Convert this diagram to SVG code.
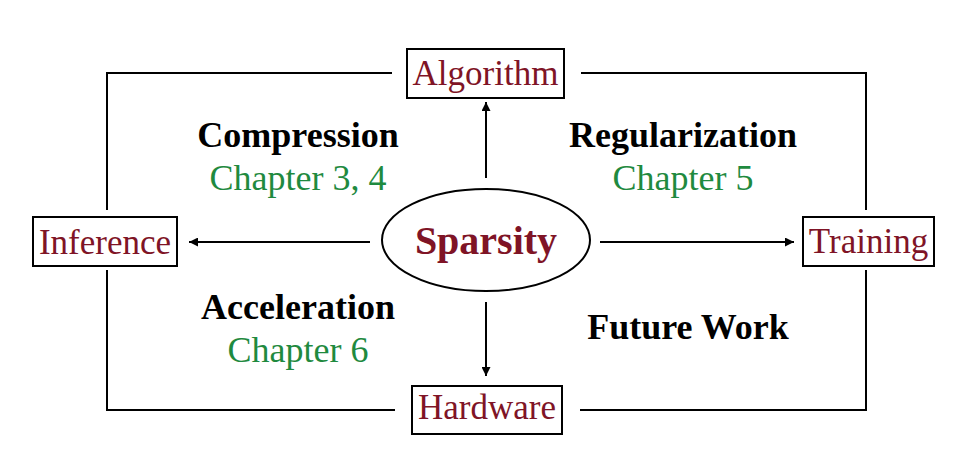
<svg xmlns="http://www.w3.org/2000/svg" width="970" height="466" viewBox="0 0 970 466">
<style>
.box{fill:#fff;stroke:#000;stroke-width:2}
.lbl{font-family:"Liberation Serif",serif;font-size:35px;fill:#7f1426;text-anchor:middle}
.head{font-family:"Liberation Serif",serif;font-size:36px;font-weight:bold;fill:#000;text-anchor:middle}
.ch{font-family:"Liberation Serif",serif;font-size:36px;fill:#1f8a3f;text-anchor:middle}
.ln{stroke:#000;stroke-width:2;fill:none}
</style>
<defs>
<marker id="ah" viewBox="0 0 10 10" refX="10" refY="5" markerWidth="9" markerHeight="9" markerUnits="userSpaceOnUse" orient="auto"><path d="M0,0 L10,5 L0,10 z" fill="#000"/></marker>
</defs>
<rect width="970" height="466" fill="#fff"/>
<g id="connectors">
<path class="ln" d="M392,73 H107 V210"/>
<path class="ln" d="M107,270 V410 H395"/>
<path class="ln" d="M581,73 H866 V210"/>
<path class="ln" d="M866,270 V410 H580"/>
<line class="ln" x1="486" y1="178" x2="486" y2="102" marker-end="url(#ah)"/>
<line class="ln" x1="486" y1="302" x2="486" y2="376" marker-end="url(#ah)"/>
<line class="ln" x1="370" y1="242" x2="189" y2="242" marker-end="url(#ah)"/>
<line class="ln" x1="600" y1="242" x2="794" y2="242" marker-end="url(#ah)"/>
</g>
<g id="algorithm"><rect class="box" x="407" y="49" width="157" height="49"/><text class="lbl" x="485.5" y="85">Algorithm</text></g>
<g id="inference"><rect class="box" x="33" y="217" width="144" height="49"/><text class="lbl" x="105" y="254">Inference</text></g>
<g id="training"><rect class="box" x="803" y="217" width="131" height="49"/><text class="lbl" x="868.5" y="253">Training</text></g>
<g id="hardware"><rect class="box" x="412" y="386" width="150" height="48"/><text class="lbl" x="487" y="419">Hardware</text></g>
<g id="sparsity"><ellipse cx="486" cy="240" rx="104" ry="51" fill="#fff" stroke="#000" stroke-width="2"/><text x="486" y="254" font-family="Liberation Serif,serif" font-size="40" font-weight="bold" fill="#7f1426" text-anchor="middle">Sparsity</text></g>
<g id="compression"><text class="head" x="298" y="147">Compression</text><text class="ch" x="298" y="190">Chapter 3, 4</text></g>
<g id="regularization"><text class="head" x="683" y="147">Regularization</text><text class="ch" x="683" y="190">Chapter 5</text></g>
<g id="acceleration"><text class="head" x="298" y="319">Acceleration</text><text class="ch" x="298" y="362">Chapter 6</text></g>
<g id="future"><text class="head" x="688" y="339">Future Work</text></g>
</svg>
